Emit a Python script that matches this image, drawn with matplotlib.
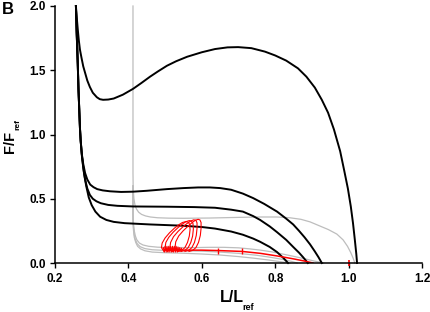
import matplotlib
matplotlib.use("Agg")
import matplotlib.pyplot as plt

plt.rcParams['font.family'] = ['Liberation Sans', 'DejaVu Sans']
plt.rcParams['font.weight'] = 'bold'

# --- black curves (shared steep descent on the left) ---
top_x = [0.257, 0.259, 0.262, 0.265, 0.268, 0.272, 0.277, 0.282, 0.288, 0.295, 0.303, 0.314,
         0.322, 0.331, 0.345, 0.36, 0.385, 0.4125, 0.435, 0.459, 0.48, 0.505, 0.53, 0.56,
         0.60, 0.636, 0.67, 0.699, 0.735, 0.772, 0.80, 0.83, 0.862, 0.885, 0.908, 0.927,
         0.944, 0.96, 0.977, 0.988, 0.998, 1.006, 1.012, 1.017, 1.021, 1.023]
top_y = [2.0, 1.92, 1.82, 1.73, 1.66, 1.60, 1.53, 1.48, 1.42, 1.37, 1.325, 1.29,
         1.275, 1.27, 1.272, 1.28, 1.31, 1.355, 1.40, 1.45, 1.49, 1.535, 1.57, 1.605,
         1.64, 1.665, 1.678, 1.68, 1.672, 1.645, 1.615, 1.575, 1.515, 1.45, 1.365, 1.27,
         1.17, 1.04, 0.87, 0.72, 0.58, 0.44, 0.31, 0.18, 0.07, 0.0]

a_x = [0.257, 0.259, 0.262, 0.264, 0.266, 0.268, 0.27, 0.273, 0.277, 0.282, 0.288, 0.296,
       0.305, 0.315, 0.33, 0.35, 0.38, 0.4125, 0.45, 0.505, 0.55, 0.59, 0.622, 0.65,
       0.68, 0.712, 0.74, 0.77, 0.805, 0.83, 0.849, 0.865, 0.88, 0.895, 0.908, 0.918, 0.927]
a_y = [2.0, 1.8, 1.55, 1.35, 1.2, 1.05, 0.95, 0.85, 0.77, 0.70, 0.65, 0.61,
       0.59, 0.575, 0.565, 0.558, 0.553, 0.555, 0.562, 0.575, 0.583, 0.588, 0.588, 0.583,
       0.57, 0.54, 0.505, 0.46, 0.40, 0.345, 0.30, 0.25, 0.20, 0.145, 0.09, 0.045, 0.0]

b_x = [0.257, 0.259, 0.262, 0.264, 0.266, 0.268, 0.27, 0.273, 0.277, 0.282, 0.288, 0.295,
       0.303, 0.313, 0.325, 0.345, 0.37, 0.4125, 0.505, 0.58, 0.636, 0.68, 0.712, 0.74,
       0.759, 0.785, 0.805, 0.83, 0.849, 0.865, 0.876, 0.889]
b_y = [2.0, 1.8, 1.55, 1.35, 1.2, 1.05, 0.95, 0.84, 0.74, 0.65, 0.58, 0.53,
       0.50, 0.48, 0.465, 0.452, 0.445, 0.44, 0.438, 0.435, 0.43, 0.415, 0.40, 0.365,
       0.335, 0.285, 0.24, 0.18, 0.125, 0.08, 0.045, 0.0]

c_x = [0.257, 0.259, 0.262, 0.264, 0.266, 0.268, 0.27, 0.274, 0.279, 0.285, 0.292, 0.30,
       0.31, 0.323, 0.34, 0.36, 0.39, 0.459, 0.549, 0.60, 0.636, 0.68, 0.712, 0.74,
       0.759, 0.785, 0.805, 0.822, 0.835]
c_y = [2.0, 1.8, 1.55, 1.35, 1.2, 1.05, 0.95, 0.82, 0.70, 0.60, 0.51, 0.45,
       0.40, 0.36, 0.335, 0.32, 0.31, 0.30, 0.29, 0.28, 0.268, 0.245, 0.22, 0.19,
       0.165, 0.125, 0.085, 0.04, 0.0]

# --- grey curves (vertical at L = 0.4125) ---
g1_x = [0.4125, 0.4125, 0.413, 0.415, 0.418, 0.422, 0.428, 0.436, 0.447, 0.46, 0.48, 0.51,
        0.55, 0.622, 0.70, 0.76, 0.805, 0.84, 0.87, 0.895, 0.92, 0.945, 0.968, 0.985,
        0.997, 1.006, 1.012, 1.017]
g1_y = [2.0, 0.7, 0.58, 0.50, 0.45, 0.42, 0.395, 0.378, 0.366, 0.358, 0.352, 0.349,
        0.348, 0.35, 0.355, 0.358, 0.358, 0.352, 0.34, 0.32, 0.29, 0.26, 0.225, 0.18,
        0.13, 0.08, 0.04, 0.0]

g2_x = [0.4125, 0.4125, 0.414, 0.416, 0.419, 0.423, 0.43, 0.44, 0.455, 0.48, 0.52, 0.58,
        0.622, 0.66, 0.70, 0.73, 0.76, 0.79, 0.82, 0.85, 0.88, 0.905, 0.932]
g2_y = [0.6, 0.38, 0.30, 0.25, 0.21, 0.18, 0.155, 0.14, 0.13, 0.123, 0.12, 0.12,
        0.122, 0.122, 0.118, 0.11, 0.10, 0.087, 0.07, 0.052, 0.033, 0.016, 0.0]

g3_x = [0.4125, 0.4125, 0.414, 0.416, 0.419, 0.424, 0.432, 0.445, 0.465, 0.50, 0.55, 0.60,
        0.65, 0.70, 0.75, 0.79, 0.82, 0.845, 0.86]
g3_y = [0.6, 0.34, 0.27, 0.22, 0.18, 0.15, 0.127, 0.112, 0.103, 0.098, 0.095, 0.092,
        0.085, 0.075, 0.06, 0.043, 0.028, 0.012, 0.0]

g4_x = [0.4125, 0.4125, 0.414, 0.416, 0.42, 0.425, 0.433, 0.445, 0.465, 0.50, 0.55, 0.60,
        0.65, 0.70, 0.74, 0.78, 0.81, 0.84]
g4_y = [0.6, 0.32, 0.25, 0.20, 0.16, 0.13, 0.11, 0.095, 0.085, 0.08, 0.076, 0.07,
        0.062, 0.05, 0.038, 0.024, 0.012, 0.0]

# --- red trajectory ---
zig_x = [0.495, 0.498, 0.500, 0.503, 0.505, 0.508, 0.510, 0.513, 0.515, 0.518, 0.520,
         0.523, 0.525, 0.528, 0.530, 0.533, 0.535, 0.538, 0.540, 0.543, 0.545]
zig_y = [0.12, 0.085, 0.13, 0.085, 0.13, 0.085, 0.13, 0.085, 0.13, 0.085, 0.13,
         0.085, 0.13, 0.085, 0.13, 0.085, 0.125, 0.09, 0.12, 0.09, 0.115]

loop1_x = [0.497, 0.49, 0.492, 0.50, 0.512, 0.525, 0.537, 0.547, 0.556, 0.563, 0.567, 0.568,
           0.566, 0.561, 0.554, 0.545, 0.535]
loop1_y = [0.09, 0.12, 0.155, 0.195, 0.235, 0.27, 0.297, 0.315, 0.322, 0.318, 0.30, 0.26,
           0.21, 0.16, 0.12, 0.098, 0.09]
loop2_x = [0.507, 0.50, 0.502, 0.51, 0.522, 0.535, 0.547, 0.557, 0.566, 0.572, 0.576, 0.577,
           0.575, 0.57, 0.563, 0.554, 0.544]
loop2_y = [0.09, 0.12, 0.16, 0.20, 0.24, 0.275, 0.303, 0.322, 0.33, 0.326, 0.307, 0.265,
           0.21, 0.16, 0.12, 0.098, 0.09]
loop3_x = [0.52, 0.513, 0.515, 0.523, 0.535, 0.548, 0.56, 0.57, 0.578, 0.584, 0.587, 0.587,
           0.585, 0.58, 0.573, 0.564, 0.554]
loop3_y = [0.09, 0.12, 0.16, 0.205, 0.245, 0.28, 0.308, 0.327, 0.336, 0.332, 0.312, 0.27,
           0.215, 0.16, 0.12, 0.098, 0.09]
loop4_x = [0.534, 0.527, 0.529, 0.537, 0.549, 0.562, 0.573, 0.582, 0.59, 0.595, 0.598, 0.598,
           0.596, 0.591, 0.584, 0.575, 0.565]
loop4_y = [0.09, 0.12, 0.165, 0.21, 0.25, 0.285, 0.313, 0.332, 0.34, 0.335, 0.315, 0.27,
           0.215, 0.16, 0.12, 0.098, 0.09]

tail_x = [0.50, 0.55, 0.60, 0.644, 0.71, 0.76, 0.805, 0.85, 0.88, 0.903]
tail_y = [0.10, 0.10, 0.10, 0.097, 0.09, 0.075, 0.055, 0.032, 0.015, 0.0]
tick_x = [0.644, 0.71]
tick_y = [0.097, 0.09]
end_x = [1.0]
end_y = [0.0]

fig = plt.figure(figsize=(4.3, 3.12), dpi=100)
ax = fig.add_axes([55/430, 49/312, 367/430, 257/312])

grey = '#bdbdbd'
for gx, gy in [(g1_x, g1_y), (g2_x, g2_y), (g3_x, g3_y), (g4_x, g4_y)]:
    ax.plot(gx, gy, color=grey, lw=0.9, clip_on=False)

for bx, by in [(top_x, top_y), (a_x, a_y), (b_x, b_y), (c_x, c_y)]:
    ax.plot(bx, by, color='black', lw=1.4, clip_on=False, solid_joinstyle='round')

red = '#ff0000'
ax.plot(zig_x, zig_y, color=red, lw=0.8)
for lx, ly in [(loop1_x, loop1_y), (loop2_x, loop2_y), (loop3_x, loop3_y), (loop4_x, loop4_y)]:
    ax.plot(lx, ly, color=red, lw=0.8)
ax.plot(tail_x, tail_y, color=red, lw=1.1)
ax.plot(tick_x, tick_y, ls='none', marker='|', ms=5, mew=1, color=red)
ax.plot(end_x, end_y, ls='none', marker='|', ms=4, mew=1.2, color=red, clip_on=False)

ax.set_xlim(0.2, 1.2)
ax.set_ylim(0.0, 2.0)
ax.set_xticks([0.2, 0.4, 0.6, 0.8, 1.0, 1.2])
ax.set_yticks([0.0, 0.5, 1.0, 1.5, 2.0])
ax.set_xticklabels(['0.2', '0.4', '0.6', '0.8', '1.0', '1.2'])
ax.set_yticklabels(['0.0', '0.5', '1.0', '1.5', '2.0'])
for s in ['top', 'right']:
    ax.spines[s].set_visible(False)
for s in ['left', 'bottom']:
    ax.spines[s].set_linewidth(1.1)
ax.tick_params(direction='out', length=3.5, width=1, labelsize=8.5, pad=3)
ax.tick_params(axis='x', pad=4)
for lab in ax.get_xticklabels() + ax.get_yticklabels():
    lab.set_fontweight('bold')

fig.text(220/430, 1 - 302/312, 'L/L', fontsize=11.5, fontweight='bold', ha='left', va='baseline')
fig.text(242/430, 1 - 310/312, 'ref', fontsize=6.5, fontweight='bold', ha='left', va='baseline')
fig.text(3/430, 1 - 153/312, 'F/F', fontsize=10.5, fontweight='bold', rotation=90,
         ha='left', va='bottom')
fig.text(14/430, 1 - 130/312, 'ref', fontsize=6, fontweight='bold', rotation=90,
         ha='left', va='bottom')
fig.text(2/430, 1 - 14/312, 'B', fontsize=12, fontweight='bold', ha='left', va='baseline')

fig.savefig('out.png', dpi=100)
